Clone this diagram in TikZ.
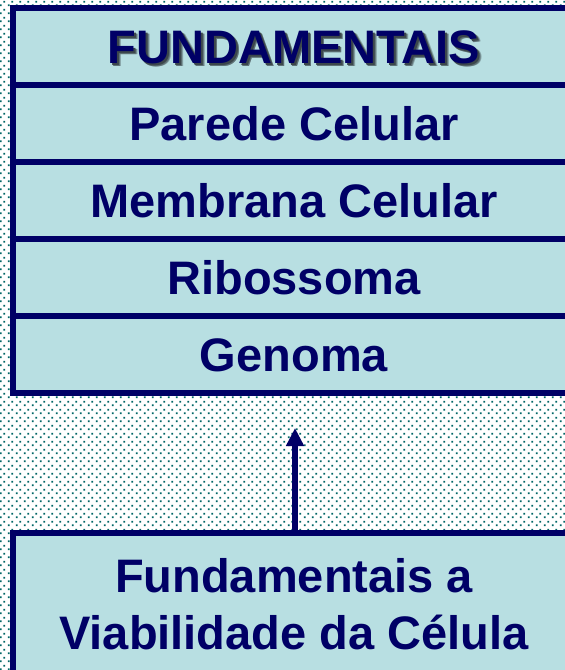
\documentclass[tikz,border=0pt]{standalone}
\usepackage{fontspec}
\setmainfont{Liberation Sans}
\usetikzlibrary{arrows.meta,patterns}

\definecolor{cellfill}{HTML}{B8DFE2}
\definecolor{navy}{HTML}{000066}
\definecolor{dotteal}{HTML}{006666}
\definecolor{shade}{HTML}{2E363A}

% staggered square dots for the page background
\pgfdeclarepatternformonly{bgdots}{\pgfpointorigin}{\pgfpoint{8pt}{8pt}}{\pgfpoint{8pt}{8pt}}{%
  \pgfpathrectangle{\pgfpoint{1pt}{1pt}}{\pgfpoint{2pt}{2pt}}%
  \pgfpathrectangle{\pgfpoint{5pt}{5pt}}{\pgfpoint{2pt}{2pt}}%
  \pgfusepath{fill}}

% soft drop shadow behind a word
\newcommand{\softshadow}[1]{%
  \rlap{\hspace{3.6pt}\raisebox{-3.6pt}{\textcolor{shade!35!cellfill}{#1}}}%
  \rlap{\hspace{2.8pt}\raisebox{-2.8pt}{\textcolor{shade!65!cellfill}{#1}}}%
  \rlap{\hspace{2pt}\raisebox{-2pt}{\textcolor{shade!90!cellfill}{#1}}}%
  #1}

\begin{document}
\begin{tikzpicture}[x=1pt,y=-1pt,
  cell/.style={draw=navy, line width=6pt, fill=cellfill, anchor=north west,
    minimum width=562pt, minimum height=77pt, inner sep=0pt, outer sep=0pt,
    text=navy, font=\fontsize{47}{57}\selectfont\bfseries,
    text height=33.6pt, text depth=0pt},
  caption/.style={text=navy, font=\fontsize{47}{57}\selectfont\bfseries,
    anchor=base, inner sep=0pt}]

  \useasboundingbox (0,0) rectangle (565,670);
  \clip (0,0) rectangle (565,670);

  % background
  \fill[white] (0,0) rectangle (565,670);
  \fill[pattern=bgdots, pattern color=dotteal] (0,0) rectangle (565,670);

  % table of fundamental structures
  \node[cell] (head) at (13,8) {\softshadow{FUNDAMENTAIS}};
  \node[cell] (parede)   at (13,85)  {Parede Celular};
  \node[cell] (membrana) at (13,162) {Membrana Celular};
  \node[cell] (ribo)     at (13,239) {Ribossoma};
  \node[cell] (genoma)   at (13,316) {Genoma};

  % lower box
  \node[cell, minimum height=160pt] (viab) at (13,533) {};
  \node[caption] (viab1) at (294,592) {Fundamentais a};
  \node[caption] (viab2) at (294,649) {Viabilidade da Célula};

  % arrow pointing up to the table
  \coordinate (tip) at (295,428);
  \draw[navy, line width=6pt, -{Triangle[length=18pt,width=17pt]}]
    (viab.north -| tip) -- (tip);
\end{tikzpicture}
\end{document}
